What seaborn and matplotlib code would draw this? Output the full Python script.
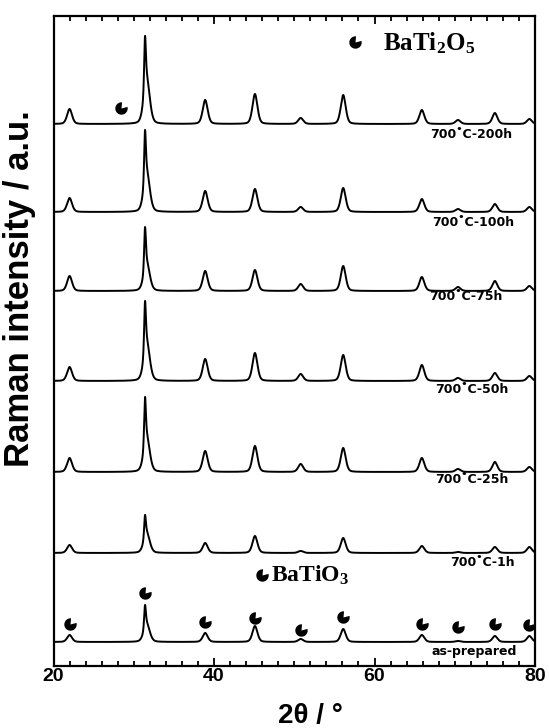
import numpy as np
import pandas as pd
import matplotlib
matplotlib.use("Agg")
import matplotlib.pyplot as plt
from matplotlib.path import Path
from matplotlib.markers import MarkerStyle
from matplotlib.ticker import MultipleLocator, FixedLocator
import seaborn as sns

# ---------------- data ----------------
samples = ["700˚C-200h", "700˚C-100h", "700˚C-75h", "700˚C-50h",
           "700˚C-25h", "700˚C-1h", "as-prepared"]
# BaTiO3 reflections (2theta, deg)
peak_2theta = [22.0, 31.4, 38.9, 45.1, 50.8, 56.1, 65.9, 70.4, 75.0, 79.3]
# peak heights (arbitrary units) for each sample
h_200h = [15, 88, 24, 30, 6, 29, 14, 4, 11, 5]
h_100h = [14, 82, 21, 23, 5, 24, 13, 3, 8, 5]
h_75h = [15, 64, 20, 21, 7, 25, 14, 4, 10, 5]
h_50h = [14, 80, 22, 28, 7, 26, 16, 3, 8, 5]
h_25h = [14, 75, 21, 26, 8, 24, 14, 3, 10, 5]
h_1h = [8, 38, 10, 17, 2, 15, 7, 1, 6, 6]
h_asprep = [7, 37, 9, 16, 3, 13, 7, 1, 6, 6]
# height of the broad shoulder under the main (31 deg) reflection
shoulder_31 = [45, 40, 28, 39, 35, 20, 18]
# vertical offsets of the stacked traces
offsets = [542, 454, 375, 285, 194, 113, 24]
# BaTiO3 marker heights above the as-prepared baseline
batio3_marker_h = [18, 49, 20, 24, 12, 25, 18, 15, 18, 17]
# BaTi2O5 marker on the 200 h trace
bati2o5_2theta = [28.4]
bati2o5_marker_h = [16]

heights = [h_200h, h_100h, h_75h, h_50h, h_25h, h_1h, h_asprep]

# ---------------- build spectra ----------------
x = np.linspace(20, 80, 3001)


def pv(xx, x0, amp, w):
    g = np.exp(-0.5 * ((xx - x0) / w) ** 2)
    l = 1.0 / (1.0 + ((xx - x0) / w) ** 2)
    return amp * (0.65 * g + 0.35 * l)


rows = []
for s, hs, sh, off in zip(samples, heights, shoulder_31, offsets):
    y = np.full_like(x, float(off))
    for i, (p, h) in enumerate(zip(peak_2theta, hs)):
        if i == 1:
            y += pv(x, p + 0.22, sh, 0.38)
            under = pv(p, p + 0.22, sh, 0.38)
            y += pv(x, p, h - under, 0.11)
        else:
            y += pv(x, p, h, 0.32)
    rows.append(pd.DataFrame({"2theta": x, "intensity": y, "sample": s}))
df = pd.concat(rows, ignore_index=True)

# ---------------- style ----------------
sns.set_style("ticks")
plt.rcParams["font.family"] = ["Liberation Sans", "DejaVu Sans"]
plt.rcParams["text.color"] = "black"
plt.rcParams["axes.labelcolor"] = "black"
plt.rcParams["xtick.color"] = "black"
plt.rcParams["ytick.color"] = "black"
plt.rcParams["axes.edgecolor"] = "black"
plt.rcParams["mathtext.fontset"] = "custom"
plt.rcParams["mathtext.rm"] = "Liberation Serif"
plt.rcParams["mathtext.bf"] = "Liberation Serif:bold"
plt.rcParams["mathtext.it"] = "Liberation Serif:italic"

fig = plt.figure(figsize=(5.49, 7.28), dpi=100)
ax = fig.add_axes([0.0975, 0.0852, 0.877, 0.8928])

sns.lineplot(data=df, x="2theta", y="intensity", hue="sample",
             palette=["black"] * len(samples), legend=False,
             estimator=None, sort=False, linewidth=1.4, ax=ax)

# marker: black disc with a small notch
wedge = Path.wedge(85, 375)
mk = MarkerStyle(wedge)

mdf = pd.DataFrame({"2theta": peak_2theta,
                    "y": [offsets[-1] + v for v in batio3_marker_h]})
sns.scatterplot(data=mdf, x="2theta", y="y", marker=mk, s=80,
                color="black", edgecolor="black", linewidth=0, ax=ax)
m2 = pd.DataFrame({"2theta": bati2o5_2theta,
                   "y": [offsets[0] + v for v in bati2o5_marker_h]})
sns.scatterplot(data=m2, x="2theta", y="y", marker=mk, s=80,
                color="black", edgecolor="black", linewidth=0, ax=ax)

# legends drawn as text
ax.scatter([57.6], [624], marker=mk, s=80, color="black", linewidths=0)
ax.text(61.1, 623, r"$\mathbf{BaTi_2O_5}$", fontsize=18, ha="left", va="center",
        color="black")
ax.scatter([46.0], [91], marker=mk, s=80, color="black", linewidths=0)
ax.text(47.1, 91, r"$\mathbf{BaTiO_3}$", fontsize=17, ha="left", va="center",
        color="black")

# trace labels
label_right = [77.2, 77.4, 75.9, 76.7, 76.7, 77.5, 77.8]
label_drop = [10, 10, 6, 9, 8, 10, 10]
for s, xr, off, d in zip(samples, label_right, offsets, label_drop):
    ax.text(xr, off - d, s, ha="right", va="center", fontsize=9,
            family="DejaVu Sans", fontweight="bold", color="black")

ax.set_xlim(20, 80)
ax.set_ylim(0, 650)
ax.xaxis.set_major_locator(FixedLocator([20, 40, 60, 80]))
ax.xaxis.set_minor_locator(MultipleLocator(2))
ax.tick_params(axis="x", which="both", direction="in", top=True, bottom=True,
               labelsize=14, pad=1.5, width=1.3, colors="black")
ax.tick_params(axis="x", which="major", length=6)
ax.tick_params(axis="x", which="minor", length=3.5)
ax.set_yticks([])
for lab in ax.get_xticklabels():
    lab.set_fontweight("bold")
for sp in ax.spines.values():
    sp.set_visible(True)
    sp.set_linewidth(1.6)
    sp.set_color("black")

ax.set_xlabel("2θ / °", fontsize=20, fontweight="bold", color="black")
ax.set_ylabel("Raman intensity / a.u.", fontsize=25, fontweight="bold",
              color="black")
ax.xaxis.set_label_coords(0.533, -0.057)
ax.yaxis.set_label_coords(-0.036, 0.58)

fig.savefig("out.png", dpi=100)
